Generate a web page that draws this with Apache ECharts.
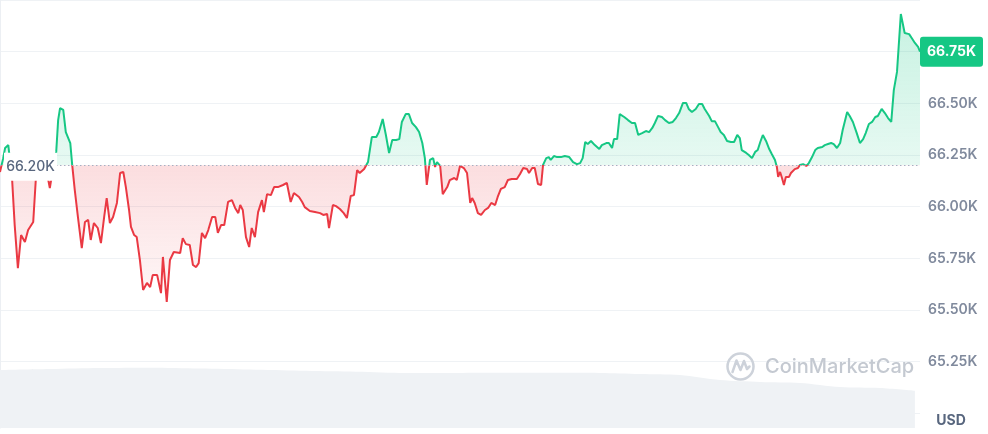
<!DOCTYPE html>
<html><head><meta charset="utf-8">
<script src="https://cdn.jsdelivr.net/npm/echarts@6/dist/echarts.min.js"></script>
<style>html,body{margin:0;padding:0;background:#fff}#c{width:988px;height:434px}</style>
</head><body><div id="c"></div>
<script>
// minutes since start of the 24h window
const times = [0,5,8,13,16,19,23,28,33,39,44,52,56,61,66,70,75,78,81,85,88,91,94,99,103,110,113,117,122,128,133,138,142,147,153,158,163,167,172,177,183,188,193,197,202,205,210,214,219,224,230,235,239,246,252,255,261,266,272,282,286,291,297,302,307,311,316,321,326,332,337,341,346,351,357,363,368,373,376,380,385,390,394,399,404,410,413,418,424,429,435,443,449,455,460,468,473,477,485,493,501,506,512,515,521,526,532,538,543,549,554,559,563,570,576,582,589,593,599,604,609,614,620,625,629,635,640,645,651,656,661,665,668,673,678,681,684,689,693,700,704,711,715,720,726,731,736,739,743,748,753,759,764,769,775,779,784,790,795,801,809,814,819,825,828,833,837,842,847,850,855,859,862,867,872,878,884,891,897,903,908,912,916,920,925,931,938,942,949,953,958,961,966,970,977,983,989,994,999,1005,1011,1016,1021,1025,1030,1036,1041,1047,1053,1058,1063,1069,1074,1078,1083,1089,1094,1099,1103,1110,1114,1119,1124,1128,1133,1138,1144,1149,1154,1158,1161,1168,1172,1177,1182,1186,1190,1194,1199,1204,1208,1213,1216,1218,1221,1224,1227,1230,1235,1238,1241,1244,1249,1252,1257,1262,1266,1271,1276,1280,1287,1291,1296,1301,1305,1310,1315,1319,1326,1330,1335,1341,1346,1351,1355,1360,1365,1370,1374,1380,1385,1390,1395,1399,1404,1410,1416,1423,1427,1432,1437,1440];
// price in USD
const prices = [66168,66235,66284,66298,66294,66129,65911,65703,65863,65829,65887,65926,66129,66202,66216,66177,66139,66090,66148,66202,66265,66419,66477,66468,66361,66308,66202,66081,65950,65800,65926,65936,65839,65921,65897,65824,65950,66042,65921,65950,66018,66163,66168,66095,65984,65902,65863,65853,65742,65597,65631,65611,65669,65669,65582,65757,65539,65742,65781,65776,65848,65819,65815,65718,65708,65727,65873,65848,65887,65950,65950,65873,65911,65911,66023,66032,65994,65969,66008,65984,65853,65805,65897,65853,65974,66032,65974,66061,66056,66095,66095,66105,66115,66023,66066,66047,66023,65998,65979,65974,65969,65960,65965,65897,66008,66003,65989,65969,65945,66052,66056,66177,66163,66182,66216,66337,66337,66361,66424,66347,66260,66323,66323,66327,66410,66448,66448,66405,66385,66361,66308,66235,66105,66226,66235,66192,66216,66197,66061,66095,66129,66139,66129,66197,66187,66163,66018,66042,66018,65969,65960,65984,65994,66018,66008,66047,66086,66095,66129,66134,66134,66158,66187,66182,66163,66187,66187,66110,66105,66202,66235,66240,66226,66245,66240,66240,66245,66240,66216,66206,66211,66235,66313,66303,66318,66298,66279,66298,66308,66308,66284,66327,66327,66448,66434,66419,66405,66405,66347,66356,66366,66361,66381,66405,66439,66434,66419,66405,66410,66429,66453,66502,66502,66473,66458,66473,66497,66497,66473,66439,66414,66414,66385,66361,66347,66318,66313,66313,66347,66332,66274,66260,66250,66235,66265,66274,66313,66347,66318,66279,66255,66226,66192,66144,66168,66139,66105,66144,66144,66163,66163,66182,66187,66202,66206,66197,66211,66240,66274,66284,66289,66298,66303,66308,66303,66284,66308,66371,66458,66439,66410,66356,66308,66327,66356,66400,66410,66434,66439,66473,66453,66429,66410,66564,66652,66932,66840,66835,66816,66792,66773,66750];
const baseline = 66200; // opening price
// trading volume (relative units)
const volTimes = [0,78,157,235,313,391,470,548,626,704,783,861,939,1002,1064,1127,1190,1252,1315,1377,1432];
const volumes  = [34.1,34.7,35.3,35.5,35.0,34.4,33.7,33.2,32.4,32.4,32.5,32.5,32.4,31.8,31.2,28.2,27.1,26.5,24.1,23.5,21.9];
const yMin = 65000, yMax = 67000, yStep = 250;

const GREEN = '#16c784', RED = '#ea3943';
const maxP = Math.max(...prices), minP = Math.min(...prices);
const s = (maxP - baseline) / (maxP - minP);
const fmtK = v => (v / 1000).toFixed(2) + 'K';
const last = prices[prices.length - 1];

const chart = echarts.init(document.getElementById('c'), null, {renderer: 'canvas'});
chart.setOption({
  animation: false,
  grid: [
    {left: 0, right: 68, top: 0, height: 413.4, containLabel: false, outerBoundsMode: 'none'},
    {left: 0, right: 68, top: 360, height: 68, containLabel: false, outerBoundsMode: 'none'}
  ],
  xAxis: [
    {type: 'value', gridIndex: 0, min: 0, max: 1440, show: false},
    {type: 'value', gridIndex: 1, min: 0, max: 1440, show: false}
  ],
  yAxis: [
    {type: 'value', gridIndex: 0, position: 'right', min: yMin, max: yMax, interval: yStep,
     axisLine: {show: true, lineStyle: {color: '#eceff3', width: 1}},
     axisTick: {show: false},
     splitLine: {show: true, lineStyle: {color: '#eff2f5', width: 1}},
     axisLabel: {showMinLabel: false, showMaxLabel: false, formatter: fmtK, color: '#808a9d',
                 fontSize: 14, fontWeight: 600, fontFamily: 'Inter', margin: 8}},
    {type: 'value', gridIndex: 1, position: 'right', min: 0, max: 40,
     axisLine: {show: true, lineStyle: {color: '#eceff3', width: 1}},
     axisTick: {show: false}, axisLabel: {show: false}, splitLine: {show: false}}
  ],
  series: [
    {type: 'line', xAxisIndex: 1, yAxisIndex: 1, z: 1, silent: true,
     data: volTimes.map((t, i) => [t, volumes[i]]),
     symbol: 'none', smooth: 0.3, lineStyle: {width: 0},
     areaStyle: {color: '#eff2f5', opacity: 1}},
    {type: 'line', xAxisIndex: 0, yAxisIndex: 0, z: 2, silent: true,
     data: times.map((t, i) => [t, prices[i]]),
     symbol: 'none',
     emphasis: {disabled: true},
     lineStyle: {width: 2, color: new echarts.graphic.LinearGradient(0, 0, 0, 1, [
       {offset: 0, color: GREEN}, {offset: s, color: GREEN},
       {offset: s, color: RED}, {offset: 1, color: RED}])},
     areaStyle: {origin: baseline, opacity: 1, color: new echarts.graphic.LinearGradient(0, 0, 0, 1, [
       {offset: 0, color: 'rgba(22,199,132,0.24)'}, {offset: s, color: 'rgba(22,199,132,0.10)'},
       {offset: s, color: 'rgba(234,57,67,0.17)'}, {offset: 1, color: 'rgba(234,57,67,0.04)'}])},
     markLine: {silent: true, z: 3, symbol: 'none', animation: false,
       label: {show: false},
       lineStyle: {type: [1.5, 2.5], color: '#a6b0c3', width: 1},
       emphasis: {disabled: true},
       data: [{yAxis: baseline}]},
     markPoint: {silent: true, z: 6, animation: false,
       label: {show: true, position: 'inside', formatter: p => fmtK(p.value)},
       data: [
         {coord: [times[0], baseline], value: baseline, symbol: 'rect', symbolSize: [53, 28],
          symbolOffset: [30.5, 1.5], itemStyle: {color: '#ffffff', borderWidth: 0},
          label: {color: '#58667e', fontSize: 14, fontWeight: 500, fontFamily: 'Inter'}},
         {coord: [times[times.length - 1], last], value: last,
          symbol: 'path://M3,0 H60 Q63,0 63,3 V27 Q63,30 60,30 H3 Q0,30 0,27 V3 Q0,0 3,0 Z',
          symbolSize: [63, 30], symbolOffset: [31.5, 0], itemStyle: {color: GREEN, borderWidth: 0},
          label: {color: '#ffffff', fontSize: 14, fontWeight: 700, fontFamily: 'Inter'}}
       ]}
    }
  ],
  graphic: [
    {type: 'circle', z: 10, silent: true, shape: {cx: 740.5, cy: 366.5, r: 13},
     style: {fill: 'none', stroke: '#cdd2da', lineWidth: 2.5}},
    {type: 'polyline', z: 10, silent: true,
     shape: {points: [[732.5, 372], [736.5, 360.5], [740.5, 370], [744, 361], [747, 369], [749.5, 366.5]]},
     style: {fill: null, stroke: '#cdd2da', lineWidth: 2.5, lineJoin: 'round', lineCap: 'round'}},
    {type: 'text', z: 10, silent: true, x: 765, y: 367,
     style: {text: 'CoinMarketCap', fill: '#c4c9d1', font: '500 20px Inter',
             textVerticalAlign: 'middle', verticalAlign: 'middle'}},
    {type: 'text', z: 10, silent: true, x: 951, y: 421,
     style: {text: 'USD', fill: '#58667e', font: '700 14px Inter',
             textAlign: 'center', align: 'center', textVerticalAlign: 'middle', verticalAlign: 'middle'}}
  ]
});
</script>
</body></html>
